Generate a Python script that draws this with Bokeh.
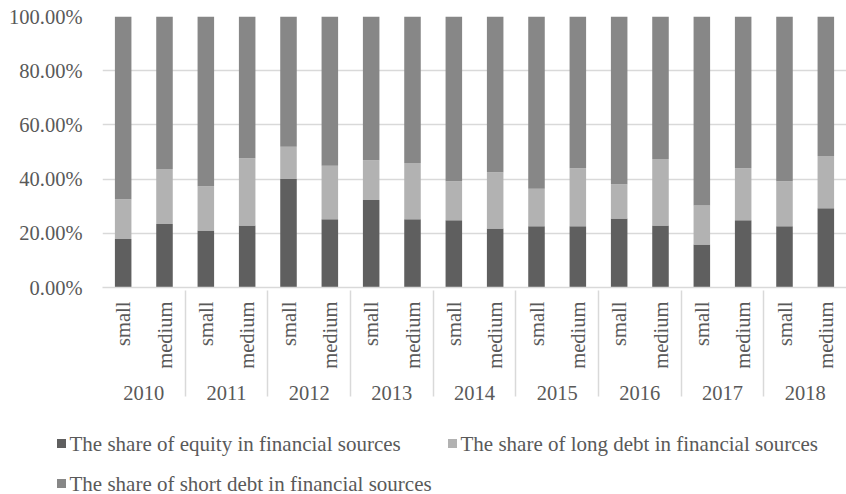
import math
from bokeh.plotting import figure
from bokeh.layouts import column, row
from bokeh.models import (FactorRange, Range1d, FixedTicker, NumeralTickFormatter,
                          ColumnDataSource)
from bokeh.embed import file_html
from bokeh.resources import INLINE

years = ["2010", "2011", "2012", "2013", "2014", "2015", "2016", "2017", "2018"]
sizes = ["small", "medium"]

# shares in percent, order: (2010 small, 2010 medium, 2011 small, ...)
equity = [17.9, 23.4, 21.0, 22.9, 40.0, 25.2, 32.3, 25.2, 24.8, 21.8,
          22.6, 22.6, 25.5, 22.9, 15.9, 24.8, 22.6, 29.2]
long_debt = [14.7, 20.3, 16.4, 24.8, 11.9, 19.7, 14.7, 20.7, 14.4, 20.7,
             13.8, 21.4, 12.6, 24.5, 14.4, 19.2, 16.6, 19.3]
short_debt = [67.4, 56.3, 62.6, 52.3, 48.1, 55.1, 53.0, 54.1, 60.8, 57.5,
              63.6, 56.0, 61.9, 52.6, 69.7, 56.0, 60.8, 51.5]

series_names = ["The share of equity in financial sources",
                "The share of long debt in financial sources",
                "The share of short debt in financial sources"]
y_ticks = [0, 0.2, 0.4, 0.6, 0.8, 1.0]

colors = ["#5f5f5f", "#b2b2b2", "#878787"]
FONT = "Liberation Serif"
TXT = "#595959"
GRID = "#d9d9d9"
FS = "20.5px"

factors = [(y, s) for y in years for s in sizes]
src = ColumnDataSource(dict(
    x=factors,
    equity=[v / 100 for v in equity],
    long=[v / 100 for v in long_debt],
    short=[v / 100 for v in short_debt],
))

p = figure(x_range=FactorRange(*factors, group_padding=0, range_padding=0, factor_padding=0),
           y_range=Range1d(0, 1),
           width=846, height=408,
           min_border_left=102, min_border_right=0, min_border_top=16, min_border_bottom=121,
           output_backend="svg", toolbar_location=None)
p.outline_line_color = None
p.background_fill_color = "white"
p.border_fill_color = "white"

rs = p.vbar_stack(["equity", "long", "short"], x="x", width=0.4, source=src,
                  fill_color=colors, line_color=None)

# y axis
p.yaxis.ticker = FixedTicker(ticks=y_ticks)
p.yaxis.formatter = NumeralTickFormatter(format="0.00%")
p.yaxis.axis_line_color = None
p.yaxis.major_tick_line_color = None
p.yaxis.minor_tick_line_color = None
p.yaxis.major_tick_out = 0
p.yaxis.major_tick_in = 0
p.yaxis.major_label_standoff = 20
p.yaxis.major_label_text_font = FONT
p.yaxis.major_label_text_font_size = FS
p.yaxis.major_label_text_color = TXT
p.ygrid.grid_line_color = GRID
p.ygrid.grid_line_width = 1.5
p.xgrid.grid_line_color = None

# x axis (nested categories)
xa = p.xaxis[0]
xa.axis_line_color = GRID
xa.axis_line_width = 1.5
xa.major_tick_line_color = None
xa.minor_tick_line_color = None
xa.major_tick_out = 0
xa.major_label_orientation = math.pi / 2
xa.major_label_standoff = 14
xa.major_label_text_font = FONT
xa.major_label_text_font_size = FS
xa.major_label_text_color = TXT
xa.group_text_font = FONT
xa.group_text_font_size = FS
xa.group_text_font_style = "normal"
xa.group_text_color = TXT
xa.separator_line_color = GRID
xa.separator_line_width = 1.5

# ---- legend strip below the chart (page-pixel coordinates, rows 408..494) ----
leg = figure(width=846, height=86, x_range=Range1d(0, 846), y_range=Range1d(494, 408),
             min_border=0, output_backend="svg", toolbar_location=None)
leg.axis.visible = False
leg.grid.visible = False
leg.outline_line_color = None

# layout of the legend entries: (square centre x, row centre y)
leg_x = [61, 452, 61]
leg_y = [443, 443, 483]
leg.scatter(x=leg_x, y=leg_y, marker="square", size=9, fill_color=colors, line_color=None)
leg.text(x=[v + 8 for v in leg_x], y=leg_y, text=series_names,
         text_font="Liberation Serif", text_font_size="21px", text_color=TXT,
         text_baseline="middle", text_align="left")

layout = column(p, row(leg), spacing=0)
open("out.html", "w").write(file_html(layout, INLINE))
